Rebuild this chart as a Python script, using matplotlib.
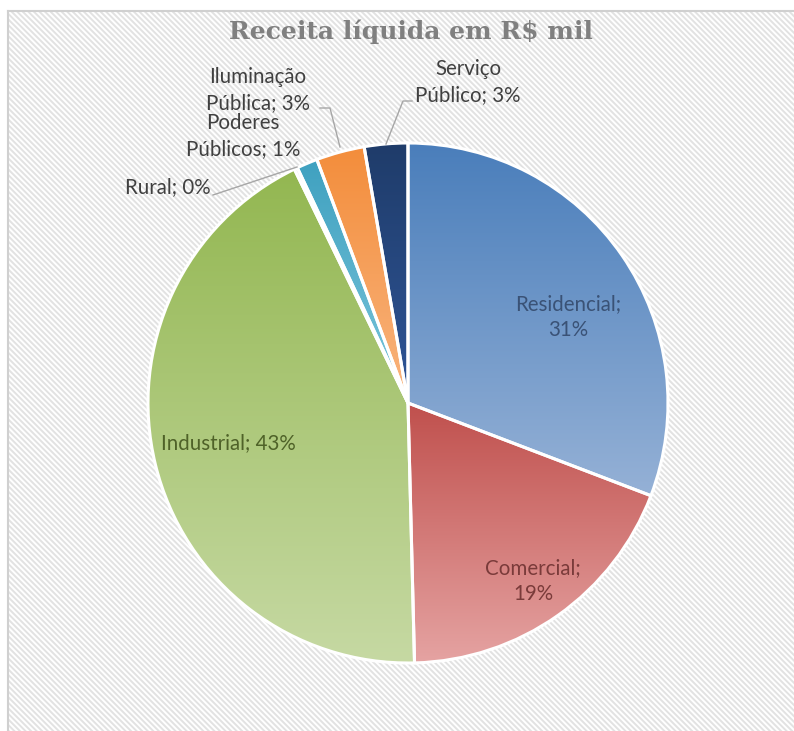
import numpy as np
import matplotlib
matplotlib.use('Agg')
import matplotlib.pyplot as plt
from matplotlib.patches import Rectangle
from matplotlib.colors import to_rgb

categories = ['Residencial', 'Comercial', 'Industrial', 'Rural',
              'Poderes Públicos', 'Iluminação Pública', 'Serviço Público']
values = [30.8, 18.8, 43.2, 0.2, 1.3, 3.0, 2.7]
label_texts = ['Residencial;\n{p}%', 'Comercial;\n{p}%', 'Industrial; {p}%', 'Rural; {p}%',
               'Poderes\nPúblicos; {p}%', 'Iluminação\nPública; {p}%', 'Serviço\nPúblico; {p}%']
top_colors = ['#4a7ebb', '#c0504d', '#93b751', '#8064a2', '#3fa1c0', '#f38d3b', '#1f3c6a']
bottom_colors = ['#95b1d6', '#e5a3a2', '#c6d9a3', '#b3a2c7', '#7cc6dc', '#f9b57f', '#2f5597']
title = 'Receita líquida em R$ mil'

W, H = 794, 731
plt.rcParams['hatch.linewidth'] = 1.4
fig = plt.figure(figsize=(W / 100, H / 100), dpi=100)
fig.patch.set_facecolor('white')
ax = fig.add_axes([0, 0, 1, 1])


def P(x, y):
    return (x, H - y)


cx, cy = P(408, 403)
R = 260
wedges, _ = ax.pie(values, startangle=90, counterclock=False, center=(cx, cy), radius=R,
                   wedgeprops=dict(edgecolor='white', linewidth=2.2))
ax.set_xlim(0, W)
ax.set_ylim(0, H)
ax.set_aspect('auto')
ax.axis('off')

# background
bg = Rectangle(P(8, 731), W - 8, 731 - 11, facecolor='white', edgecolor='#e2e2e2',
               hatch='\\\\\\\\\\\\', linewidth=0, zorder=0)
ax.add_patch(bg)
ax.plot([8, 8], [0, H - 11], color='#d0d0d0', lw=1.5, zorder=0.5)
ax.plot([8, W], [H - 11, H - 11], color='#d0d0d0', lw=1.5, zorder=0.5)

# gradient fills
g = np.linspace(0, 1, 256)[:, None, None]
for w, tc, bc in zip(wedges, top_colors, bottom_colors):
    ext = w.get_path().get_extents()
    img = np.array(to_rgb(tc))[None, None, :] * (1 - g) + np.array(to_rgb(bc))[None, None, :] * g
    im = ax.imshow(img, extent=[ext.x0, ext.x1, ext.y0, ext.y1], origin='upper',
                   aspect='auto', interpolation='bilinear', zorder=1)
    im.set_clip_path(w)
    w.set_facecolor('none')
    w.set_zorder(2)

fam = ['Lato', 'DejaVu Sans']
pct = [int(round(v)) for v in values]
label_pos = [(568, 317), (533, 581), (228, 443), (168, 187), (243, 136), (258, 90), (468, 82)]
label_colors = ['#3a5276', '#7a3b3a', '#4f6228', '#404040', '#404040', '#404040', '#404040']
for txt, p, pos, col in zip(label_texts, pct, label_pos, label_colors):
    ax.text(*P(*pos), txt.format(p=p), ha='center', va='center', fontsize=14.8,
            family=fam, color=col, linespacing=1.35, zorder=5)

# leader lines
leaders = [
    [(213, 195), (297, 167)],
    [(320, 108), (330, 108), (340, 147)],
    [(412, 101), (403, 101), (386, 144)],
]
for pts in leaders:
    xs = [p[0] for p in pts]
    ys = [H - p[1] for p in pts]
    ax.plot(xs, ys, color='#a6a6a6', lw=1.0, zorder=4)

ax.text(*P(411, 32), title, ha='center', va='center', fontsize=18, fontweight='bold',
        family=['DejaVu Serif'], color='#808080', zorder=5)

fig.savefig('out.png', dpi=100)
